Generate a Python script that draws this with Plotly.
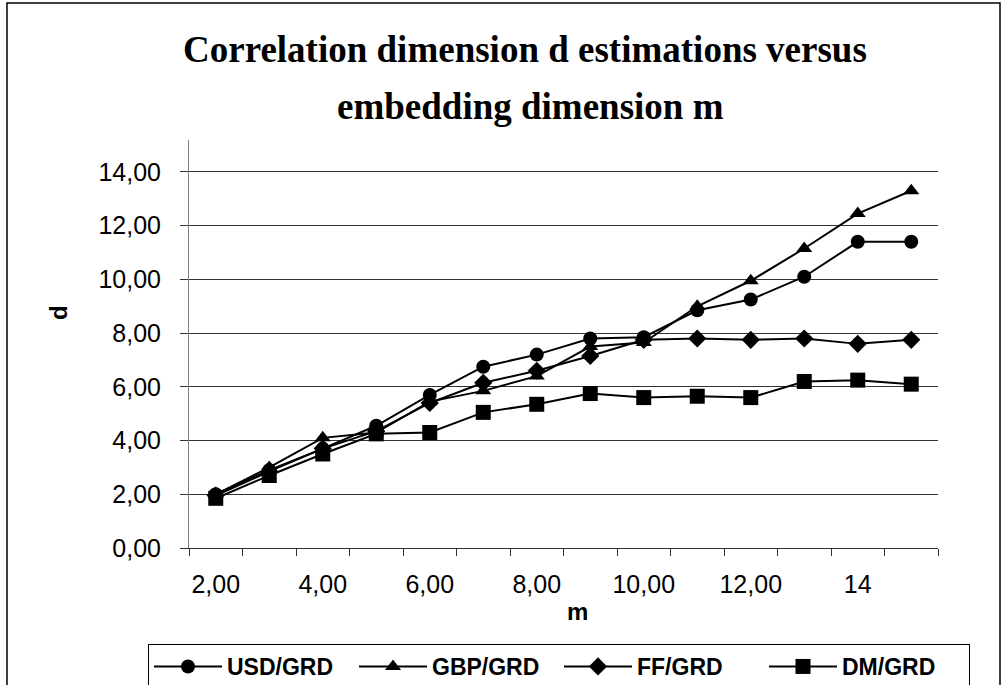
import plotly.graph_objects as go

# ---- data ----
m_labels = ["2,00", "3,00", "4,00", "5,00", "6,00", "7,00", "8,00", "9,00",
            "10,00", "11,00", "12,00", "13,00", "14", "15"]
usd = [2.0, 2.9, 3.7, 4.55, 5.7, 6.75, 7.2, 7.8, 7.85, 8.85, 9.25, 10.1, 11.4, 11.4]
gbp = [2.0, 3.0, 4.1, 4.3, 5.45, 5.85, 6.4, 7.5, 7.65, 9.0, 9.95, 11.15, 12.45, 13.3]
ff = [1.95, 2.85, 3.7, 4.35, 5.4, 6.15, 6.6, 7.15, 7.75, 7.8, 7.75, 7.8, 7.6, 7.75]
dm = [1.85, 2.7, 3.5, 4.25, 4.3, 5.05, 5.35, 5.75, 5.6, 5.65, 5.6, 6.2, 6.25, 6.1]
series_names = ["USD/GRD", "GBP/GRD", "FF/GRD", "DM/GRD"]
y_ticks = [0, 2, 4, 6, 8, 10, 12, 14]

x_idx = list(range(len(m_labels)))

W, H = 1002, 685
L, R, T, B = 189, 64, 140, 137
pw, ph = W - L - R, H - T - B


def px_x(p):
    return (p - L) / pw


def px_y(p):
    return (H - B - p) / ph


fig = go.Figure()
styles = [
    (usd, "circle", 14),
    (gbp, "triangle-up", 14),
    (ff, "diamond", 14),
    (dm, "square", 15),
]
for name, (vals, sym, sz) in zip(series_names, styles):
    fig.add_trace(go.Scatter(
        x=x_idx, y=vals, name=name, mode="lines+markers",
        line=dict(color="black", width=2),
        marker=dict(symbol=sym, size=sz, color="black"),
    ))

fig.update_layout(
    width=W, height=H,
    margin=dict(l=L, r=R, t=T, b=B, autoexpand=False),
    paper_bgcolor="white", plot_bgcolor="white",
    separators=",.",
    font=dict(family="Liberation Sans, Arial, sans-serif", color="black"),
    showlegend=True,
    legend=dict(
        orientation="h",
        xref="paper", yref="paper",
        x=px_x(148), y=px_y(644), xanchor="left", yanchor="top",
        bordercolor="black", borderwidth=1, bgcolor="white",
        font=dict(size=23, family="Liberation Sans, Arial, sans-serif", weight=700),
        itemwidth=68,
        entrywidth=122, entrywidthmode="pixels",
    ),
    xaxis=dict(
        range=[-0.5, len(m_labels) - 0.5],
        tickmode="array",
        tickvals=x_idx[::2], ticktext=m_labels[::2],
        ticks="", showgrid=False, zeroline=False,
        showline=True, linecolor="#333333", linewidth=1,
        tickfont=dict(size=25),
        ticklabelstandoff=14,
        minor=dict(tickmode="array",
                   tickvals=[i - 0.5 for i in range(len(m_labels) + 1)],
                   ticks="outside", ticklen=7, tickcolor="#333333",
                   showgrid=False),
    ),
    yaxis=dict(
        range=[0, 15.19],
        tickmode="array", tickvals=y_ticks, tickformat=".2f",
        ticks="outside", ticklen=8, tickcolor="#333333",
        showgrid=True, gridcolor="#333333", gridwidth=1,
        zeroline=False,
        showline=True, linecolor="#808080", linewidth=1,
        tickfont=dict(size=25),
        ticklabelstandoff=14,
    ),
    annotations=[
        dict(text="Correlation dimension d estimations versus",
             xref="paper", yref="paper", x=px_x(525), y=px_y(50),
             xanchor="center", yanchor="middle", showarrow=False,
             font=dict(family="Liberation Serif, Times New Roman, serif",
                       size=37, weight=700, color="black")),
        dict(text="embedding dimension m",
             xref="paper", yref="paper", x=px_x(530), y=px_y(106),
             xanchor="center", yanchor="middle", showarrow=False,
             font=dict(family="Liberation Serif, Times New Roman, serif",
                       size=37, weight=700, color="black")),
        dict(text="d", xref="paper", yref="paper", x=px_x(58), y=px_y(313),
             xanchor="center", yanchor="middle", showarrow=False, textangle=-90,
             font=dict(size=24, weight=700, color="black")),
        dict(text="m", xref="paper", yref="paper", x=px_x(577), y=px_y(611),
             xanchor="center", yanchor="middle", showarrow=False,
             font=dict(size=24, weight=700, color="black")),
    ],
    shapes=[
        dict(type="rect", xref="paper", yref="paper",
             x0=px_x(7), x1=px_x(1000), y0=px_y(700), y1=px_y(3),
             line=dict(color="black", width=1.5), fillcolor="rgba(0,0,0,0)",
             layer="below"),
    ],
)

fig.write_html("out.html", config={"displayModeBar": False},
               post_script="document.body.style.margin='0';")
